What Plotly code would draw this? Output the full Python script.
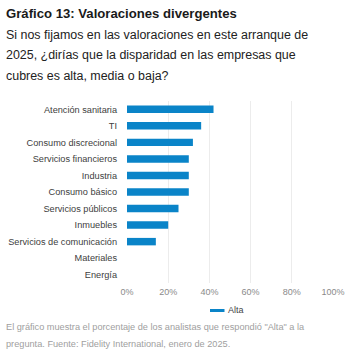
import plotly.graph_objects as go

categories = ["Atención sanitaria", "TI", "Consumo discrecional", "Servicios financieros",
              "Industria", "Consumo básico", "Servicios públicos", "Inmuebles",
              "Servicios de comunicación", "Materiales", "Energía"]
alta = [42, 36, 32, 30, 30, 30, 25, 20, 14, 0, 0]
x_ticks = [0, 20, 40, 60, 80, 100]
x_tick_labels = ["0%", "20%", "40%", "60%", "80%", "100%"]

title = "Gráfico 13: Valoraciones divergentes"
subtitle_lines = ["Si nos fijamos en las valoraciones en este arranque de",
                  "2025, ¿dirías que la disparidad en las empresas que",
                  "cubres es alta, media o baja?"]
footer_lines = ["El gráfico muestra el porcentaje de los analistas que respondió \"Alta\" a la",
                "pregunta. Fuente: Fidelity International, enero de 2025."]
legend_label = "Alta"

BAR = "#0A84C8"
FONT = "Liberation Sans, Arial, sans-serif"
W, H = 353, 350
ML, MR, MT, MB = 127, 20, 101, 67
PW, PH = W - ML - MR, H - MT - MB


def px(x):
    return (x - ML) / PW


def py(y):
    return (H - MB - y) / PH


fig = go.Figure()
fig.add_trace(go.Bar(
    x=alta, y=categories, orientation="h", marker=dict(color=BAR, line=dict(width=0)),
    width=0.45, name=legend_label, showlegend=False,
    hovertemplate="%{y}: %{x}%<extra></extra>",
))

fig.update_layout(
    width=W, height=H,
    margin=dict(l=ML, r=MR, t=MT, b=MB, pad=0, autoexpand=False),
    paper_bgcolor="white", plot_bgcolor="white",
    font=dict(family=FONT, size=9, color="#444"),
    xaxis=dict(range=[0, 100], tickvals=x_ticks, ticktext=x_tick_labels,
               showgrid=True, gridcolor="#ececec", gridwidth=1, zeroline=False,
               showline=False, tickfont=dict(size=9, color="#8a8a8a"),
               ticks="", ticklabelstandoff=2, automargin=False, fixedrange=True),
    yaxis=dict(categoryorder="array", categoryarray=categories, autorange="reversed",
               showgrid=False, zeroline=False, showline=False, ticks="",
               ticklabelstandoff=9, automargin=False,
               tickfont=dict(size=9.2, color="#404040"), fixedrange=True),
    showlegend=False,
)

annotations = [dict(text="<b>" + title + "</b>", x=px(4), y=py(14), xref="paper", yref="paper",
                    xanchor="left", yanchor="middle", showarrow=False,
                    font=dict(size=13.15, color="#1a1a1a", family=FONT))]
for i, line in enumerate(subtitle_lines):
    annotations.append(dict(text=line, x=px(4), y=py(34.5 + 20.5 * i), xref="paper", yref="paper",
                            xanchor="left", yanchor="middle", showarrow=False,
                            font=dict(size=12.45, color="#222", family=FONT)))
for i, line in enumerate(footer_lines):
    annotations.append(dict(text=line, x=px(4), y=py(326.5 + 17.5 * i), xref="paper", yref="paper",
                            xanchor="left", yanchor="middle", showarrow=False,
                            font=dict(size=9.2, color="#a0a0a0", family=FONT)))
# legend entry
annotations.append(dict(text=legend_label, x=px(225.5), y=py(309.5), xref="paper", yref="paper",
                        xanchor="left", yanchor="middle", showarrow=False,
                        font=dict(size=9, color="#444", family=FONT)))
fig.update_layout(annotations=annotations)
fig.add_shape(type="line", xref="paper", yref="paper",
              x0=px(210), x1=px(224.5), y0=py(310.5), y1=py(310.5),
              line=dict(color=BAR, width=3))

fig.write_html("out.html", config={"displayModeBar": False})
